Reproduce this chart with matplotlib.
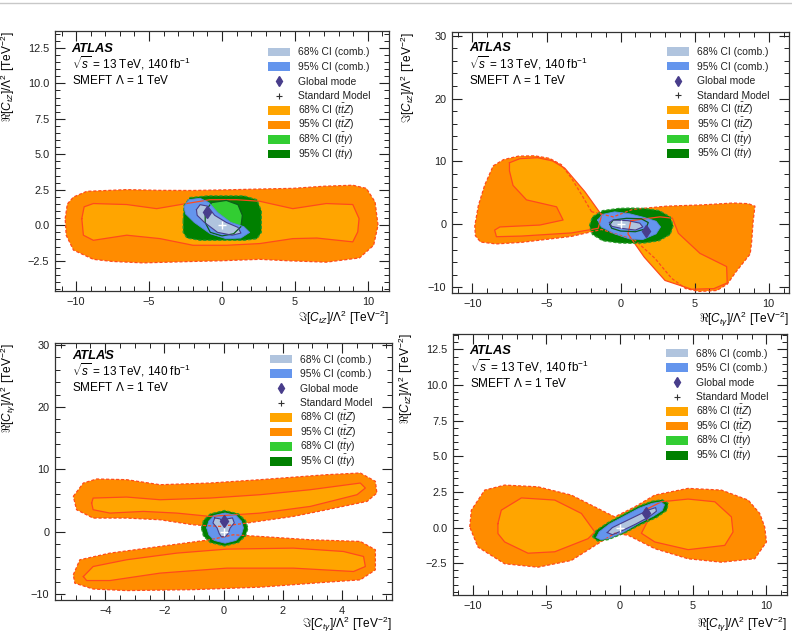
import numpy as np
import matplotlib.pyplot as plt
from matplotlib.patches import Rectangle
from matplotlib.lines import Line2D
from matplotlib.ticker import MultipleLocator

plt.rcParams['font.family'] = ['Liberation Sans', 'DejaVu Sans']
plt.rcParams['mathtext.fontset'] = 'custom'
plt.rcParams['mathtext.rm'] = 'Liberation Sans'
plt.rcParams['mathtext.it'] = 'Liberation Sans:italic'
plt.rcParams['mathtext.bf'] = 'Liberation Sans:bold'

# colours of the credible-interval regions
c_comb68 = '#b0c4de'
c_comb95 = '#6495ed'
c_ttz68 = '#ffa500'
c_ttz95 = '#ff8c00'
c_tta68 = '#32cd32'
c_tta95 = '#008000'
c_line = '#ff4a1c'
c_mode = '#483d8b'

# ---- Re[CtZ] vs Im[CtZ] ----
p1_ttz95 = [(-10.75,0.47),(-10.6,1.5),(-10.18,1.99),(-9.27,2.39),(-6.53,2.51),(-4.25,2.46),(-2.0,2.45),(0.5,2.5),
            (2.5,2.55),(4.86,2.6),(7.0,2.75),(8.97,2.82),(9.9,2.6),(10.5,1.64),(10.7,0.0),(10.4,-1.41),(9.43,-2.3),
            (7.15,-2.6),(4.5,-2.5),(2.59,-2.4),(0.0,-2.5),(-1.98,-2.55),(-5.4,-2.65),(-7.5,-2.55),(-8.82,-2.4),
            (-10.18,-1.75),(-10.68,-0.7)]
p1_ttz68 = [(-9.61,0.47),(-9.45,1.3),(-8.82,1.53),(-6.53,1.46),(-4.48,1.17),(-2.43,1.53),(-0.83,1.8),(1.0,1.8),
            (2.59,1.69),(4.86,1.17),(7.15,1.53),(8.97,1.46),(9.4,0.47),(9.31,-0.47),(8.97,-1.17),(6.5,-0.9),
            (4.86,-0.94),(2.59,-1.29),(0.31,-1.41),(-1.98,-1.41),(-4.25,-0.94),(-6.53,-0.7),(-8.82,-1.06),(-9.5,-0.7)]
p1_tta95 = [(-2.66,0.3),(-2.6,1.4),(-2.2,1.95),(-1.0,2.07),(1.5,2.07),(2.4,1.8),(2.7,1.0),(2.7,-0.5),(2.4,-0.95),
            (1.5,-1.06),(-1.5,-1.06),(-2.4,-0.9),(-2.66,-0.5)]
p1_tta68 = [(-1.15,1.0),(-0.7,1.6),(0.3,1.75),(1.1,1.45),(1.4,0.7),(1.3,-0.1),(0.8,-0.6),(0.0,-0.75),(-0.8,-0.5),
            (-1.15,0.2)]
p1_comb95 = [(-2.6,1.3),(-2.3,1.8),(-1.5,1.9),(-0.9,1.6),(-0.3,0.9),(0.6,0.2),(1.5,-0.1),(1.9,-0.5),(1.3,-0.9),
             (0.3,-0.95),(-0.8,-0.6),(-1.9,0.2),(-2.5,0.8)]
p1_comb68 = [(-1.75,1.1),(-1.5,1.45),(-1.0,1.35),(-0.5,0.7),(0.3,0.2),(1.1,-0.15),(1.3,-0.55),(0.7,-0.7),
             (-0.3,-0.5),(-1.2,0.2),(-1.7,0.7)]
p1_mode = (-1.0, 0.95)

# ---- Im[CtZ] vs Re[Ctgamma] ----
p2_ttz95 = [(-1.96,2.02),(-2.6,4.6),(-3.31,7.33),(-4.0,9.5),(-4.8,10.5),(-5.8,10.9),(-6.9,10.85),(-7.9,10.3),
            (-8.6,9.3),(-9.17,6.26),(-9.6,3.0),(-9.84,-0.2),(-9.8,-1.8),(-9.45,-2.8),(-8.4,-3.1),(-6.69,-2.85),
            (-3.31,-1.9),(-1.28,-0.8),(0.97,-2.48),(2.32,-5.39),(3.45,-8.57),(4.4,-10.2),(5.3,-10.65),(6.5,-10.5),
            (7.2,-9.5),(7.8,-7.5),(8.75,-4.7),(8.85,-2.75),(8.95,0.5),(9.07,2.9),(8.62,3.3),(7.6,3.4),(5.5,3.1),
            (3.1,2.9),(0.84,2.4),(-0.5,1.2)]
p2_ttz68_left = [(-7.5,9.8),(-6.8,10.45),(-5.6,10.6),(-4.6,10.1),(-3.76,8.92),(-2.41,5.2),(-1.28,1.49),
                 (-1.51,-0.62),(-3.31,-1.35),(-6.69,-1.85),(-8.38,-1.95),(-8.5,-0.9),(-8.15,-0.4),(-5.45,-0.1),
                 (-3.88,0.7),(-4.32,2.8),(-6.35,3.9),(-7.26,6.2),(-7.5,8.5)]
p2_ttz68_right = [(0.7,0.6),(2.66,1.2),(3.5,1.0),(3.9,-1.4),(5.36,-4.6),(7.16,-6.7),(7.2,-9.3),(6.3,-10.2),
                  (4.8,-10.3),(3.0,-8.9),(1.6,-5.2),(0.5,-1.5)]
p2_tta95 = [(-2.1,-0.2),(-1.9,1.2),(-1.2,2.2),(-0.1,2.55),(0.72,2.6),(1.6,2.55),(2.6,2.2),(3.35,1.2),(3.55,-0.2),
            (3.35,-1.6),(2.6,-2.6),(1.6,-2.95),(0.72,-3.0),(-0.1,-2.95),(-1.2,-2.6),(-1.9,-1.6)]
p2_tta68 = [(-0.72,0.0),(-0.5,0.7),(0.4,0.97),(1.4,0.9),(1.87,0.3),(1.7,-0.7),(1.0,-1.16),(0.0,-1.05),(-0.6,-0.6)]
p2_comb95 = [(-1.55,0.7),(-1.2,1.6),(-0.4,2.0),(0.6,1.7),(1.6,1.1),(2.4,0.5),(2.7,-0.4),(2.4,-1.5),(1.5,-2.4),
             (0.6,-2.3),(-0.4,-1.5),(-1.3,-0.4)]
p2_comb68 = [(-0.75,0.3),(-0.5,0.7),(0.5,0.6),(1.3,0.2),(1.5,-0.4),(1.0,-0.9),(0.0,-0.6),(-0.6,-0.3)]
p2_mode = (1.75, -1.05)

# ---- Re[Ctgamma] vs Im[Ctgamma] ----
p3_ttz95_upper = [(-5.08,5.66),(-4.74,7.8),(-4.29,8.45),(-3.28,8.34),(-2.15,7.53),(-0.46,7.8),(1.24,8.34),
                  (3.49,9.14),(4.62,9.41),(5.13,8.07),(5.18,6.2),(4.85,4.86),(3.49,3.52),(2.36,2.45),(0.78,1.38),
                  (-0.12,0.84),(-1.02,1.1),(-2.15,1.91),(-3.28,2.18),(-4.41,2.18),(-4.97,3.52)]
p3_ttz95_lower = [(-5.08,-6.92),(-4.86,-4.51),(-3.84,-3.44),(-2.15,-2.37),(-0.46,-1.3),(0.33,-0.5),(1.24,-0.77),
                  (2.93,-1.3),(4.62,-1.57),(5.13,-2.9),(5.13,-6.12),(4.62,-7.73),(3.49,-8.1),(1.24,-8.9),
                  (-1.02,-9.3),(-3.28,-9.45),(-4.41,-9.2),(-5.03,-8.26)]
p3_ttz68_upper = [(-4.46,4.59),(-4.41,5.39),(-3.28,5.55),(-2.15,5.12),(-0.46,5.39),(1.24,5.93),(2.93,6.73),
                  (4.62,7.8),(4.79,7.0),(4.51,5.93),(2.93,4.05),(1.24,2.98),(-0.46,2.45),(-1.58,2.98),
                  (-2.71,3.25),(-3.84,2.98),(-4.41,3.52)]
p3_ttz68_lower = [(-4.74,-7.2),(-4.41,-5.59),(-3.28,-4.51),(-1.58,-3.44),(0.11,-2.8),(2.36,-2.64),(4.05,-3.18),
                  (4.73,-3.98),(4.79,-5.59),(4.39,-6.39),(2.36,-5.85),(0.11,-5.85),(-2.15,-6.65),(-3.84,-7.84),
                  (-4.63,-7.84)]
p3_tta95 = [(-0.75,0.55),(-0.68,1.8),(-0.45,2.85),(0.03,3.4),(0.5,2.85),(0.74,1.8),(0.82,0.55),(0.74,-0.7),
            (0.5,-1.75),(0.03,-2.3),(-0.45,-1.75),(-0.68,-0.7)]
p3_comb95 = [(-0.57,0.6),(-0.5,1.7),(-0.32,2.6),(0.05,3.0),(0.42,2.6),(0.6,1.7),(0.67,0.6),(0.6,-0.5),
             (0.42,-1.4),(0.05,-1.85),(-0.32,-1.4),(-0.5,-0.5)]
p3_comb68 = [(-0.3,2.2),(-0.12,2.05),(0.0,1.3),(0.12,2.05),(0.3,2.2),(0.36,1.4),(0.22,0.6),(0.15,-0.3),
             (0.06,-0.8),(-0.08,-0.8),(-0.15,-0.3),(-0.22,0.6),(-0.36,1.4)]
p3_mode = (0.0, 1.7)

# ---- Re[CtZ] vs Re[Ctgamma] ----
p4_ttz95 = [(-10.22,0.04),(-10.11,1.22),(-9.2,2.63),(-7.84,2.98),(-5.57,2.86),(-3.3,2.28),(-1.7,1.45),
            (-0.34,0.75),(1.02,1.45),(2.39,2.28),(4.66,2.75),(6.93,2.63),(8.75,1.93),(9.54,0.99),(9.88,0.04),
            (10.0,-1.01),(9.2,-2.19),(6.93,-2.43),(4.66,-2.19),(2.39,-1.48),(0.57,-0.54),(-0.34,-0.4),
            (-1.48,-1.13),(-3.3,-2.31),(-5.57,-2.78),(-7.84,-2.54),(-9.66,-1.37)]
p4_ttz68_left = [(-8.3,0.28),(-8.07,1.22),(-6.7,2.08),(-4.43,1.93),(-2.61,0.99),(-1.7,-0.31),(-2.16,-0.78),
                 (-4.43,-1.7),(-6.25,-1.8),(-7.84,-1.01),(-8.3,-0.42)]
p4_ttz68_right = [(1.7,1.22),(2.84,1.81),(4.66,2.0),(6.48,1.81),(7.61,0.75),(7.72,-0.31),(7.16,-1.25),
                  (4.66,-1.55),(2.39,-1.01),(1.48,-0.4),(1.93,0.51)]
p4_tta95 = [(-1.85,-0.65),(-1.6,-0.2),(-0.8,0.35),(0.3,0.95),(1.3,1.5),(2.2,1.85),(2.9,1.95),(3.3,1.7),
            (3.2,1.2),(2.5,0.7),(1.4,0.2),(0.3,-0.4),(-0.8,-0.85),(-1.5,-0.95)]
p4_comb95 = [(-1.6,-0.7),(-1.4,-0.3),(-0.7,0.25),(0.3,0.8),(1.3,1.35),(2.2,1.7),(2.8,1.8),(3.05,1.6),
             (2.9,1.2),(2.3,0.8),(1.3,0.3),(0.3,-0.3),(-0.7,-0.75),(-1.3,-0.85)]
p4_comb68 = [(-0.85,-0.35),(-0.5,0.0),(0.4,0.45),(1.2,0.85),(2.0,1.25),(2.45,1.4),(2.5,1.15),(2.0,0.75),
             (1.1,0.25),(0.2,-0.2),(-0.5,-0.5)]
p4_mode = (1.8, 1.05)

sm_point = (0.0, 0.0)

lab_ReCtZ = r'$\Re[C_{tZ}]/\Lambda^2$ [TeV$^{-2}$]'
lab_ImCtZ = r'$\Im[C_{tZ}]/\Lambda^2$ [TeV$^{-2}$]'
lab_ReCtA = r'$\Re[C_{t\gamma}]/\Lambda^2$ [TeV$^{-2}$]'
lab_ImCtA = r'$\Im[C_{t\gamma}]/\Lambda^2$ [TeV$^{-2}$]'

legend_labels = ['68% CI (comb.)', '95% CI (comb.)', 'Global mode', 'Standard Model',
                 r'68% CI ($t\bar{t}Z$)', r'95% CI ($t\bar{t}Z$)',
                 r'68% CI ($t\bar{t}\gamma$)', r'95% CI ($t\bar{t}\gamma$)']
legend_kinds = ['box', 'box', 'mode', 'sm', 'box', 'box', 'box', 'box']
legend_colors = [c_comb68, c_comb95, c_mode, '#333333', c_ttz68, c_ttz95, c_tta68, c_tta95]

FIG_H = 637


def closed(poly):
    a = np.array(poly + [poly[0]])
    return a[:, 0], a[:, 1]


def draw_panel(ax, ttz95, ttz68, tta95, tta68, comb95, comb68, mode):
    # filled regions, widest first
    for p in ttz95:
        ax.fill(*closed(p), color=c_ttz95, lw=0)
    for p in ttz68:
        ax.fill(*closed(p), color=c_ttz68, lw=0)
    ax.fill(*closed(tta95), color=c_tta95, lw=0)
    if tta68 is not None:
        ax.fill(*closed(tta68), color=c_tta68, lw=0)
    ax.fill(*closed(comb95), color=c_comb95, lw=0)
    ax.fill(*closed(comb68), color=c_comb68, lw=0)
    # contour lines on top
    for p in ttz95:
        ax.plot(*closed(p), color=c_line, lw=0.9, ls=(0, (2.5, 1.5)))
    for p in ttz68:
        ax.plot(*closed(p), color=c_line, lw=0.9)
    ax.plot(*closed(tta95), color='#2a9a2a', lw=0.9, ls=(0, (2.5, 1.5)))
    if tta68 is not None:
        ax.plot(*closed(tta68), color='#0b5e1a', lw=0.9)
    ax.plot(*closed(comb95), color='#5a86e0', lw=0.6)
    ax.plot(*closed(comb68), color=c_mode, lw=0.8)
    ax.plot(*mode, marker='d', color=c_mode, ms=6, ls='none')
    ax.plot(*sm_point, marker='+', color='white', ms=6, mew=1.0, ls='none')


def draw_legend(ax, x0, y0):
    # hand-placed key: swatch column followed by the labels, 14.6 px per row
    h_px = ax.get_position().height * FIG_H
    dy = 14.6 / h_px
    h = 8.6 / h_px
    w = 0.065
    for i, (lab, kind, col) in enumerate(zip(legend_labels, legend_kinds, legend_colors)):
        yc = y0 - i * dy
        if kind == 'box':
            ax.add_patch(Rectangle((x0, yc - h / 2), w, h, transform=ax.transAxes, fc=col, ec='none',
                                   clip_on=False, zorder=5))
        elif kind == 'mode':
            ax.plot(x0 + w / 2, yc, marker='d', color=col, ms=5, ls='none', transform=ax.transAxes, zorder=5)
        else:
            ax.plot(x0 + w / 2, yc, marker='+', color=col, ms=5, mew=0.8, ls='none', transform=ax.transAxes,
                    zorder=5)
        ax.text(x0 + 0.09, yc - 3.5 / h_px, lab, transform=ax.transAxes, fontsize=7.4, va='baseline',
                color='#222222')


def style_axes(ax, xlim, ylim, xmaj, xmin, ymaj, ymin, xlabel, ylabel, xl_y, yl_x, leg_y, txt_y):
    ax.set_xlim(*xlim)
    ax.set_ylim(*ylim)
    ax.xaxis.set_major_locator(MultipleLocator(xmaj))
    ax.xaxis.set_minor_locator(MultipleLocator(xmin))
    ax.yaxis.set_major_locator(MultipleLocator(ymaj))
    ax.yaxis.set_minor_locator(MultipleLocator(ymin))
    ax.tick_params(which='both', direction='in', top=True, right=True, labelsize=7.9, colors='#222222')
    ax.tick_params(which='major', length=7, width=0.8, pad=4)
    ax.tick_params(which='minor', length=3.5, width=0.7)
    for s in ax.spines.values():
        s.set_linewidth(0.9)
        s.set_color('#333333')
    ax.set_xlabel(xlabel, loc='right', fontsize=8.6)
    ax.set_ylabel(ylabel, loc='top', fontsize=8.6)
    ax.xaxis.set_label_coords(1.0, xl_y)
    ax.yaxis.set_label_coords(yl_x, 1.0)

    ax.text(0.05, txt_y - 0.010, 'ATLAS', transform=ax.transAxes, fontsize=9.3, fontweight='bold',
            fontstyle='italic', va='baseline')
    ax.text(0.05, txt_y - 0.075, r'$\sqrt{s}$ = 13 TeV, 140 fb$^{-1}$', transform=ax.transAxes,
            fontsize=8.5, va='baseline')
    ax.text(0.05, txt_y - 0.135, r'SMEFT $\Lambda$ = 1 TeV', transform=ax.transAxes,
            fontsize=8.5, va='baseline')
    draw_legend(ax, 0.638, leg_y)


fig = plt.figure(figsize=(7.92, 6.37), dpi=100)
fig.add_artist(Line2D([0, 1], [0.995, 0.995], transform=fig.transFigure, color='#c8c8c8', lw=1.0))

ax1 = fig.add_axes([0.0694, 0.5432, 0.4217, 0.408])
ax2 = fig.add_axes([0.5707, 0.540, 0.4255, 0.41])
ax3 = fig.add_axes([0.0694, 0.0581, 0.4255, 0.4035])
ax4 = fig.add_axes([0.5720, 0.066, 0.4217, 0.41])

draw_panel(ax1, [p1_ttz95], [p1_ttz68], p1_tta95, p1_tta68, p1_comb95, p1_comb68, p1_mode)
style_axes(ax1, (-11.45, 11.45), (-4.63, 13.68), 5, 1, 2.5, 0.5, lab_ImCtZ, lab_ReCtZ,
           -0.07, -0.114, 0.920, 0.931)

draw_panel(ax2, [p2_ttz95], [p2_ttz68_left, p2_ttz68_right], p2_tta95, p2_tta68, p2_comb95, p2_comb68, p2_mode)
style_axes(ax2, (-11.38, 11.37), (-10.9, 30.6), 5, 1, 10, 2, lab_ReCtA, lab_ImCtZ,
           -0.065, -0.105, 0.925, 0.935)

draw_panel(ax3, [p3_ttz95_upper, p3_ttz95_lower], [p3_ttz68_upper, p3_ttz68_lower], p3_tta95, None,
           p3_comb95, p3_comb68, p3_mode)
style_axes(ax3, (-5.7, 5.69), (-10.96, 30.27), 2, 0.5, 10, 2, lab_ImCtA, lab_ReCtA,
           -0.058, -0.109, 0.937, 0.947)

draw_panel(ax4, [p4_ttz95], [p4_ttz68_left, p4_ttz68_right], p4_tta95, None, p4_comb95, p4_comb68, p4_mode)
style_axes(ax4, (-11.36, 11.4), (-4.73, 13.6), 5, 1, 2.5, 0.5, lab_ReCtA, lab_ReCtZ,
           -0.077, -0.114, 0.926, 0.932)

fig.savefig('out.png', dpi=100)
